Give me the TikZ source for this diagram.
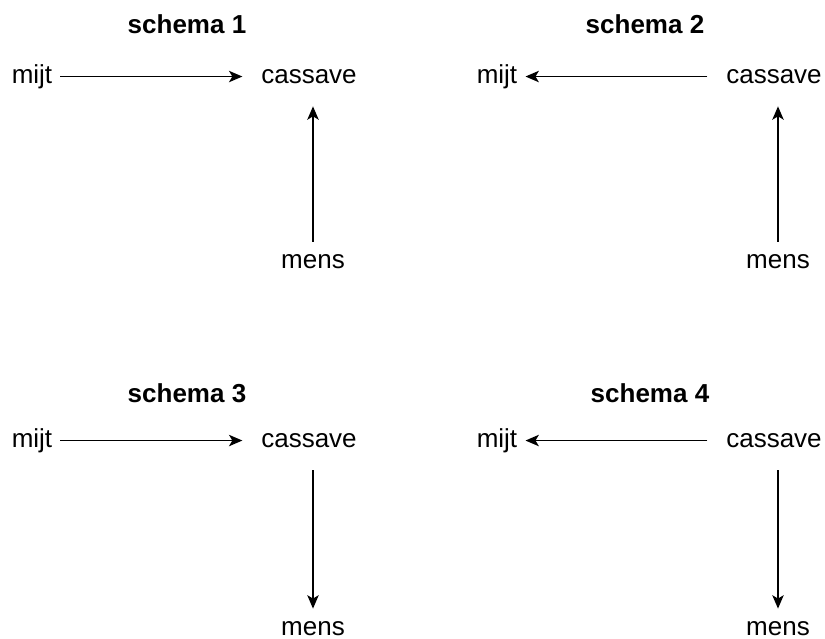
\documentclass[tikz,border=0pt]{standalone}
\usepackage{fontspec}
\setmainfont{Liberation Sans}
\usetikzlibrary{arrows.meta}

\newcommand{\lblfont}{\fontsize{19.5}{23}\selectfont}

\tikzset{
  txt/.style={inner sep=0pt, anchor=base, font=\lblfont, text height=14.6pt, text depth=4.9pt},
  ttl/.style={inner sep=0pt, anchor=base, font=\lblfont\bfseries},
  arr/.style={line width=1.4pt, -{Stealth[length=10pt, width=8.5pt, inset=2.5pt]}},
  hmc/.style={arr, shorten <=6pt, shorten >=14pt},
  hcm/.style={arr, shorten <=14pt, shorten >=6pt},
  vup/.style={arr, shorten <=5pt, shorten >=12.4pt},
  vdn/.style={arr, shorten <=12.4pt, shorten >=5pt}
}

\begin{document}
\begin{tikzpicture}[x=0.75pt, y=-0.75pt]

  \useasboundingbox (0,0) rectangle (825,639);

  % schema 1
  \node[ttl] (t1) at (187,33) {schema 1};
  \node[txt] (mijt1) at (32,83) {mijt};
  \node[txt] (cas1) at (309,83) {cassave};
  \node[txt] (mens1) at (313,268) {mens};
  \draw[hmc] (mijt1) -- (cas1);
  \draw[vup] (mens1) -- (cas1.south -| mens1);

  % schema 2
  \node[ttl] (t2) at (645,33) {schema 2};
  \node[txt] (mijt2) at (497,83) {mijt};
  \node[txt] (cas2) at (774,83) {cassave};
  \node[txt] (mens2) at (778,268) {mens};
  \draw[hcm] (cas2) -- (mijt2);
  \draw[vup] (mens2) -- (cas2.south -| mens2);

  % schema 3
  \node[ttl] (t3) at (187,402) {schema 3};
  \node[txt] (mijt3) at (32,447) {mijt};
  \node[txt] (cas3) at (309,447) {cassave};
  \node[txt] (mens3) at (313,635) {mens};
  \draw[hmc] (mijt3) -- (cas3);
  \draw[vdn] (cas3.south -| mens3) -- (mens3);

  % schema 4
  \node[ttl] (t4) at (650,402) {schema 4};
  \node[txt] (mijt4) at (497,447) {mijt};
  \node[txt] (cas4) at (774,447) {cassave};
  \node[txt] (mens4) at (778,635) {mens};
  \draw[hcm] (cas4) -- (mijt4);
  \draw[vdn] (cas4.south -| mens4) -- (mens4);

\end{tikzpicture}
\end{document}
